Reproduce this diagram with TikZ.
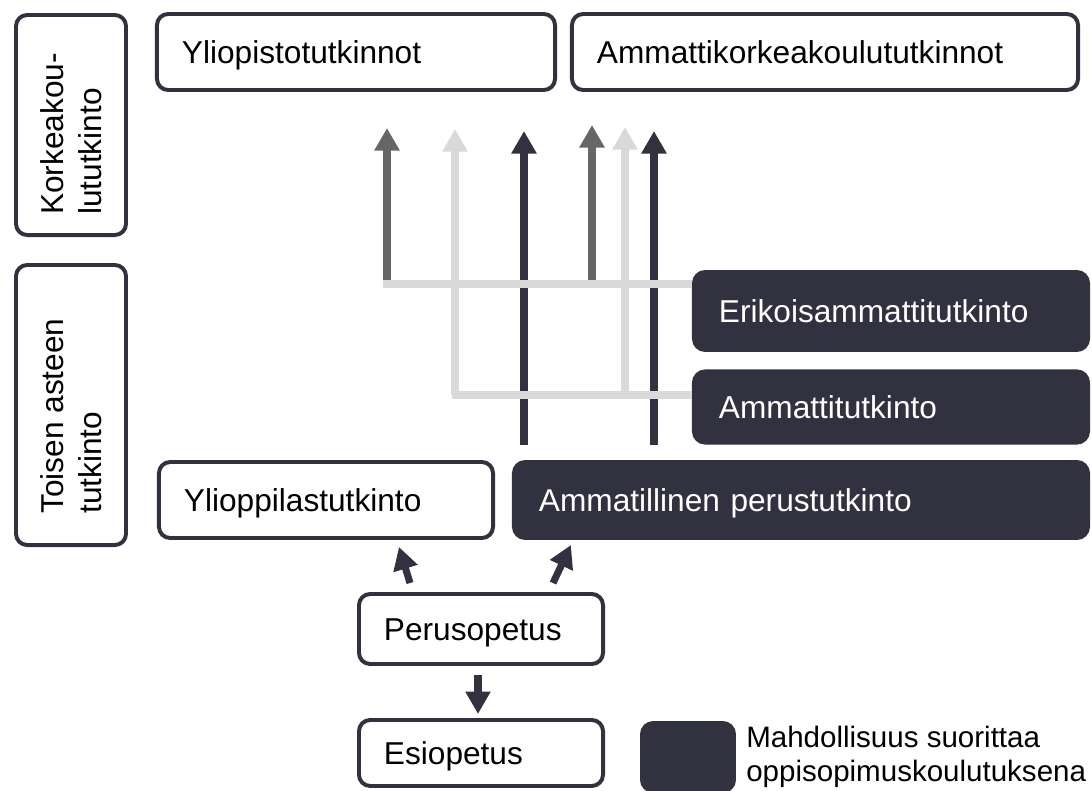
\documentclass[tikz,border=0pt]{standalone}
\usepackage{fontspec}
\setmainfont{Liberation Sans}
\usetikzlibrary{arrows.meta,positioning,calc}
\definecolor{tumma}{HTML}{32313F}
\definecolor{harmaa}{HTML}{666666}
\definecolor{vaalea}{HTML}{D9D9D9}
\tikzstyle{tutkinto}=[rectangle,rounded corners=8pt,draw=tumma,line width=2.8pt,
fill=white,inner xsep=0.625cm,align=left,font=\fontsize{22.5}{27}\selectfont,
text height=16pt,text depth=0pt]
\tikzstyle{oppisopimus}=[tutkinto,fill=tumma,text=white]
\tikzstyle{taso}=[rectangle,rounded corners=8pt,draw=tumma,line width=2.8pt,
rotate=90,align=left,font=\fontsize{22.5}{27}\selectfont]
\tikzstyle{nuoli}=[line width=5pt,-{Triangle[width=17pt,length=16pt]}]
\tikzstyle{viiva}=[line width=5.5pt,draw=vaalea]

\begin{document}
\begin{tikzpicture}[x=0.025cm,y=-0.025cm]
  \useasboundingbox (0,0) rectangle (1092,790);

  \node[taso,minimum width=5.5cm,minimum height=2.75cm] (kk) at (71,125) {Korkeakou-\rule{0.45cm}{0pt}\\lututkinto};
  \node[taso,minimum width=7cm,minimum height=2.75cm] (ta) at (71,405) {Toisen asteen\rule{0.55cm}{0pt}\\tutkinto};

  \node[tutkinto,text width=8.7cm,minimum height=1.9cm] (yo) at (356,52) {Yliopistotutkinnot};
  \node[tutkinto,text width=11.4cm,minimum height=1.9cm] (amk) at (825,52) {Ammattikorkeakoulututkinnot};
  \node[oppisopimus,text width=8.6cm,minimum height=1.95cm] (eat) at (891,311) {Erikoisammattitutkinto};
  \node[oppisopimus,text width=8.6cm,minimum height=1.78cm] (at) at (891,407) {Ammattitutkinto};
  \node[oppisopimus,text width=13.1cm,minimum height=1.9cm] (apt) at (801,500) {Ammatillinen perustutkinto};
  \node[tutkinto,text width=7.1cm,minimum height=1.9cm] (ylt) at (326,500) {Ylioppilastutkinto};
  \node[tutkinto,text width=4.85cm,minimum height=1.75cm] (perus) at (481,629) {Perusopetus};
  \node[tutkinto,text width=4.85cm,minimum height=1.65cm,below=1.3cm of perus] (esi) {Esiopetus};

  \node[oppisopimus,minimum width=2.3cm,minimum height=1.7cm,inner sep=0pt] (selite) at (688,757) {};
  \node[right=0.25cm of selite,inner sep=0pt,align=left,
    font=\fontsize{21}{24}\selectfont] (selitys) {Mahdollisuus suorittaa\\oppisopimuskoulutuksena};

  % jatko-opintoihin
  \coordinate (g1) at (387,128);
  \coordinate (l1) at (455,129);
  \coordinate (d1) at (524,131);
  \coordinate (g2) at (592,125);
  \coordinate (l2) at (625,127);
  \coordinate (d2) at (654,131);
  \coordinate (h1) at (383,284);
  \coordinate (h2) at (452,395);

  \draw[nuoli,tumma] ($(d1 |- apt.north)+(0,-15)$) -- (d1);
  \draw[nuoli,tumma] ($(d2 |- apt.north)+(0,-15)$) -- (d2);
  \draw[nuoli,harmaa] (g1 |- h1) -- (g1);
  \draw[nuoli,harmaa] (g2 |- h1) -- (g2);
  \draw[viiva] (h1) -- (h1 -| eat.west);
  \draw[viiva] (h2) -- (h2 -| at.west);
  \draw[nuoli,vaalea] (l1 |- h2) -- (l1);
  \draw[nuoli,vaalea] ($(l2 |- h2)+(0,3)$) -- (l2);

  % perusopetuksen jälkeen
  \draw[nuoli,tumma] ($(perus.north west)+(53,-9)$) -- ($(ylt.south west)+(242,7)$);
  \draw[nuoli,tumma] ($(perus.north west)+(196,-9)$) -- ($(apt.south west)+(59,5)$);
  \draw[nuoli,tumma] ($(perus.south)+(-3,9)$) -- ($(esi.north)+(-3,-4)$);
\end{tikzpicture}
\end{document}
